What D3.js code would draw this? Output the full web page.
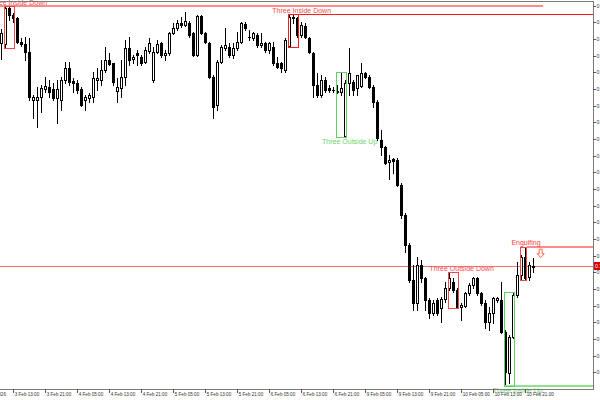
<!DOCTYPE html>
<html><head><meta charset="utf-8">
<script src="https://cdn.jsdelivr.net/npm/d3@7"></script>
<style>html,body{margin:0;padding:0;background:#fff;overflow:hidden}svg{display:block}</style>
</head><body><svg id="c" width="600" height="400"></svg>
<script>
// ---- DATA (hourly bars) ----
const open = [0.75438,0.75435,0.75543,0.75522,0.75513,0.75441,0.75435,0.75411,0.75267,0.75267,
0.75276,0.75300,0.75306,0.75300,0.75273,0.75267,0.75327,0.75363,0.75324,0.75318,
0.75300,0.75267,0.75273,0.75276,0.75327,0.75327,0.75357,0.75387,0.75378,0.75294,
0.75303,0.75336,0.75423,0.75390,0.75408,0.75396,0.75381,0.75414,0.75327,0.75411,
0.75438,0.75402,0.75408,0.75468,0.75483,0.75498,0.75492,0.75498,0.75468,0.75402,
0.75519,0.75468,0.75438,0.75336,0.75252,0.75381,0.75423,0.75426,0.75402,0.75423,
0.75441,0.75495,0.75456,0.75453,0.75462,0.75432,0.75438,0.75417,0.75426,0.75378,
0.75378,0.75357,0.75429,0.75516,0.75513,0.75462,0.75489,0.75453,0.75408,0.75312,
0.75282,0.75327,0.75303,0.75297,0.75294,0.75291,0.75159,0.75318,0.75321,0.75303,
0.75309,0.75348,0.75336,0.75306,0.75261,0.75147,0.75126,0.75081,0.75090,0.75087,
0.75012,0.74922,0.74832,0.74727,0.74658,0.74772,0.74733,0.74667,0.74628,0.74667,
0.74643,0.74670,0.74703,0.74721,0.74697,0.74646,0.74649,0.74688,0.74712,0.74733,
0.74688,0.74658,0.74601,0.74628,0.74667,0.74667,0.74571,0.74448,0.74556,0.74682,
0.74742,0.74796,0.74736,0.74766];
const high = [0.75480,0.75548,0.75549,0.75528,0.75516,0.75453,0.75456,0.75453,0.75282,0.75306,
0.75312,0.75336,0.75327,0.75318,0.75327,0.75336,0.75381,0.75381,0.75333,0.75327,
0.75306,0.75282,0.75288,0.75351,0.75363,0.75387,0.75426,0.75408,0.75378,0.75333,
0.75387,0.75447,0.75456,0.75402,0.75417,0.75402,0.75426,0.75453,0.75426,0.75447,
0.75441,0.75417,0.75471,0.75498,0.75507,0.75516,0.75531,0.75504,0.75471,0.75522,
0.75522,0.75471,0.75441,0.75342,0.75387,0.75432,0.75483,0.75438,0.75438,0.75471,
0.75501,0.75501,0.75477,0.75471,0.75468,0.75468,0.75441,0.75441,0.75441,0.75396,
0.75381,0.75453,0.75522,0.75524,0.75516,0.75501,0.75498,0.75456,0.75411,0.75348,
0.75342,0.75336,0.75312,0.75306,0.75312,0.75350,0.75327,0.75423,0.75327,0.75342,
0.75378,0.75351,0.75342,0.75312,0.75267,0.75177,0.75129,0.75102,0.75093,0.75093,
0.75018,0.74928,0.74838,0.74772,0.74796,0.74787,0.74736,0.74673,0.74667,0.74673,
0.74676,0.74721,0.74751,0.74733,0.74703,0.74658,0.74691,0.74718,0.74736,0.74736,
0.74691,0.74667,0.74646,0.74676,0.74676,0.74721,0.74577,0.74562,0.74691,0.74781,
0.74802,0.74827,0.74781,0.74793];
const low = [0.75390,0.75424,0.75507,0.75501,0.75438,0.75429,0.75387,0.75267,0.75213,0.75186,
0.75231,0.75291,0.75276,0.75267,0.75198,0.75237,0.75318,0.75312,0.75291,0.75288,
0.75249,0.75237,0.75261,0.75261,0.75297,0.75312,0.75351,0.75372,0.75312,0.75261,
0.75276,0.75312,0.75372,0.75378,0.75372,0.75372,0.75378,0.75408,0.75321,0.75408,
0.75396,0.75387,0.75402,0.75465,0.75477,0.75486,0.75489,0.75456,0.75399,0.75399,
0.75465,0.75438,0.75333,0.75213,0.75237,0.75378,0.75417,0.75396,0.75393,0.75417,
0.75438,0.75477,0.75447,0.75447,0.75426,0.75426,0.75411,0.75408,0.75372,0.75363,
0.75351,0.75351,0.75427,0.75498,0.75456,0.75456,0.75453,0.75408,0.75276,0.75276,
0.75276,0.75291,0.75291,0.75291,0.75288,0.75282,0.75156,0.75282,0.75282,0.75282,
0.75306,0.75333,0.75303,0.75246,0.75147,0.75102,0.75075,0.75030,0.75048,0.75009,
0.74913,0.74811,0.74721,0.74637,0.74637,0.74721,0.74637,0.74613,0.74622,0.74622,
0.74601,0.74661,0.74697,0.74691,0.74643,0.74607,0.74646,0.74682,0.74703,0.74682,
0.74652,0.74583,0.74577,0.74598,0.74661,0.74568,0.74409,0.74418,0.74553,0.74676,
0.74727,0.74727,0.74727,0.74751];
const close = [0.75468,0.75543,0.75522,0.75513,0.75441,0.75435,0.75411,0.75276,0.75276,0.75276,
0.75303,0.75309,0.75291,0.75273,0.75300,0.75327,0.75363,0.75321,0.75318,0.75297,
0.75252,0.75276,0.75282,0.75333,0.75333,0.75357,0.75387,0.75375,0.75321,0.75306,
0.75336,0.75423,0.75387,0.75396,0.75402,0.75378,0.75417,0.75438,0.75411,0.75435,
0.75402,0.75408,0.75468,0.75483,0.75498,0.75492,0.75504,0.75462,0.75402,0.75519,
0.75468,0.75441,0.75336,0.75246,0.75381,0.75426,0.75432,0.75402,0.75423,0.75441,
0.75498,0.75483,0.75455,0.75468,0.75432,0.75438,0.75417,0.75438,0.75378,0.75366,
0.75363,0.75447,0.75516,0.75513,0.75462,0.75492,0.75456,0.75411,0.75312,0.75282,
0.75327,0.75297,0.75297,0.75296,0.75292,0.75303,0.75318,0.75348,0.75297,0.75342,
0.75348,0.75336,0.75306,0.75261,0.75153,0.75126,0.75078,0.75087,0.75084,0.75012,
0.74922,0.74832,0.74727,0.74658,0.74772,0.74733,0.74667,0.74628,0.74658,0.74628,
0.74670,0.74703,0.74733,0.74697,0.74646,0.74652,0.74688,0.74712,0.74733,0.74688,
0.74658,0.74601,0.74628,0.74673,0.74673,0.74571,0.74451,0.74556,0.74682,0.74742,
0.74796,0.74733,0.74772,0.74769];

const timeTickBars = [-5,3,11,19,27,35,43,51,59,67,75,83,91,99,107,115,123,131];
const timeTickLabels = ["3 Feb 2026","3 Feb 13:00","3 Feb 21:00","4 Feb 05:00","4 Feb 13:00","4 Feb 21:00",
"5 Feb 05:00","5 Feb 13:00","5 Feb 21:00","6 Feb 05:00","6 Feb 13:00","6 Feb 21:00",
"9 Feb 05:00","9 Feb 13:00","9 Feb 21:00","10 Feb 05:00","10 Feb 13:00","10 Feb 21:00"];
const priceTicks = [0.7445,0.7450,0.7455,0.7460,0.7465,0.7470,0.7475,0.7480,0.7485,0.7490,0.7495,
0.7500,0.7505,0.7510,0.7515,0.7520,0.7525,0.7530,0.7535,0.7540,0.7545,0.7550,0.7555];
const priceTickLabels = priceTicks.map(v => v.toFixed(4));
const lastPrice = 0.74769;

const patternNames = ["Three Inside Down","Three Inside Down","Three Outside Up","Three Outside Down","Three Inside Up","Engulfing"];
const patternFirstBar = [1,72,84,112,126,130];
const patternLastBar = [3,74,86,114,128,131];
const patternBullish = [false,false,true,false,true,false];
const signalArrowBar = 134.75;

// ---- STYLE ----
const RED = "#ff1a1a", PINK = "#ff8c8c", GREEN = "#5fd35f", LGREEN = "#8fe38f";
const patternStyle = [
  {rect: "#f04848", text: "#ff4a4a", dx: 8, ext: {level: "top", from: "left", toBar: 135.3, color: PINK, w: 2}},
  {rect: RED, text: "#ff4a4a", dx: 8, ext: {level: "top", from: "rect", to: "edge", color: RED, w: 1}},
  {rect: GREEN, text: "#6ad86a", dx: 8, ext: null},
  {rect: "#f04848", text: "#ff4a4a", dx: 8, ext: null},
  {rect: GREEN, text: "#6ad86a", dx: 8, ext: {level: "bottom", from: "rect", to: "edge", color: LGREEN, w: 2}},
  {rect: "#f04848", text: "#ff3a3a", dx: 2.3, ext: {level: "top", from: "rectRight", to: "edge", color: PINK, w: 2}}
];

const plotRight = 593, plotTop = 1, plotBottom = 389;
const svg = d3.select("#c");
svg.append("rect").attr("width", 600).attr("height", 400).attr("fill", "#fff");

const x = d3.scaleLinear().domain([0, 1]).range([1.7, 5.7]);
const y = d3.scaleLinear().domain([0.744, 0.75567]).range([plotBottom, 0]);
const col = i => Math.floor(x(i));
const py = v => Math.round(y(v));

svg.append("defs").append("clipPath").attr("id", "plot")
  .append("rect").attr("x", 0).attr("y", plotTop).attr("width", plotRight).attr("height", plotBottom - plotTop);

const g = svg.append("g").attr("clip-path", "url(#plot)").attr("shape-rendering", "crispEdges");

// current price line
g.append("line").attr("x1", 0).attr("x2", plotRight)
  .attr("y1", py(lastPrice) + 0.5).attr("y2", py(lastPrice) + 0.5)
  .attr("stroke", "#f07070").attr("stroke-width", 1);

// candles
const bars = d3.range(open.length);
const cg = g.append("g");
cg.selectAll("rect.wick").data(bars).join("rect").attr("class", "wick")
  .attr("x", i => col(i)).attr("y", i => py(high[i]))
  .attr("width", 1).attr("height", i => py(low[i]) - py(high[i]) + 1)
  .attr("fill", "#000");
cg.selectAll("rect.body").data(bars).join("rect").attr("class", "body")
  .each(function(i) {
    const top = py(Math.max(open[i], close[i])), bot = py(Math.min(open[i], close[i]));
    const el = d3.select(this);
    if (close[i] > open[i] && bot - top >= 2) {
      el.attr("x", col(i) - 0.5).attr("y", top + 0.5).attr("width", 2).attr("height", bot - top)
        .attr("fill", "#fff").attr("stroke", "#000").attr("stroke-width", 1);
    } else {
      el.attr("x", col(i) - 1).attr("y", top).attr("width", 3).attr("height", Math.max(bot - top, 0) + 1)
        .attr("fill", "#000");
    }
  });

// patterns
const pg = g.append("g");
patternNames.forEach((name, p) => {
  const a = patternFirstBar[p], b = patternLastBar[p];
  const hi = d3.max(d3.range(a, b + 1), i => high[i]);
  const lo = d3.min(d3.range(a, b + 1), i => low[i]);
  const st = patternStyle[p];
  const x1 = Math.round(x(a) - 1.5) + 0.5, x2 = Math.round(x(b)) + 0.5;
  const y1 = py(hi) + 0.5, y2 = py(lo) + 0.5;
  if (st.ext) {
    const ly = st.ext.level === "top" ? y(hi) : y(lo);
    const lx1 = st.ext.from === "left" ? 0 : (st.ext.from === "rect" ? x1 : x2);
    const lx2 = st.ext.to === "edge" ? plotRight : x(st.ext.toBar);
    pg.append("line").attr("x1", lx1).attr("x2", lx2)
      .attr("y1", st.ext.w === 1 ? Math.round(ly) + 0.5 : Math.round(ly))
      .attr("y2", st.ext.w === 1 ? Math.round(ly) + 0.5 : Math.round(ly))
      .attr("stroke", st.ext.color).attr("stroke-width", st.ext.w);
  }
  pg.append("rect").attr("x", x1).attr("y", y1).attr("width", x2 - x1).attr("height", y2 - y1)
    .attr("fill", "none").attr("stroke", st.rect).attr("stroke-width", 1);
  const mid = (a + b) / 2;
  svg.append("text").attr("x", x(mid) + st.dx)
    .attr("y", patternBullish[p] ? y(lo) + 6.5 : y(hi) - 1.5)
    .attr("text-anchor", "middle").attr("font-family", "Liberation Sans, Arial, sans-serif")
    .attr("font-size", 7).attr("fill", st.text).text(name);
});

// signal arrow (hollow down arrow) after engulfing
{
  const cx = x(signalArrowBar), ty = y(high[patternLastBar[5]]) + 2.5;
  const pts = [[cx - 1.5, ty], [cx + 1.5, ty], [cx + 1.5, ty + 4.5], [cx + 3.5, ty + 4.5], [cx, ty + 8.5],
               [cx - 3.5, ty + 4.5], [cx - 1.5, ty + 4.5]];
  svg.append("path").attr("d", d3.line()(pts) + "Z")
    .attr("fill", "#fff").attr("stroke", "#ff6a40").attr("stroke-width", 1);
}

// frame
const fg = svg.append("g").attr("shape-rendering", "crispEdges");
fg.append("line").attr("x1", 0).attr("x2", plotRight + 0.5).attr("y1", plotTop + 0.5).attr("y2", plotTop + 0.5).attr("stroke", "#7a7a7a");
fg.append("line").attr("x1", plotRight + 0.5).attr("x2", plotRight + 0.5).attr("y1", plotTop).attr("y2", plotBottom + 1).attr("stroke", "#7a7a7a");
fg.append("line").attr("x1", 0).attr("x2", plotRight + 0.5).attr("y1", plotBottom + 0.5).attr("y2", plotBottom + 0.5).attr("stroke", "#7a7a7a");

// price axis (right)
const ag = svg.append("g");
priceTicks.forEach((v, k) => {
  const yy = py(v);
  ag.append("line").attr("x1", plotRight).attr("x2", plotRight + 3).attr("y1", yy + 0.5).attr("y2", yy + 0.5)
    .attr("stroke", "#555").attr("shape-rendering", "crispEdges");
  ag.append("text").attr("x", plotRight + 3.5).attr("y", yy + 2)
    .attr("font-family", "Liberation Sans, Arial, sans-serif").attr("font-size", 5.2).attr("fill", "#333")
    .text(priceTickLabels[k]);
});
// last price label
ag.append("rect").attr("x", plotRight + 1).attr("y", py(lastPrice) - 4).attr("width", 10).attr("height", 8)
  .attr("fill", "#d40000");
ag.append("text").attr("x", plotRight + 2).attr("y", py(lastPrice) + 2)
  .attr("font-family", "Liberation Sans, Arial, sans-serif").attr("font-size", 5.2).attr("fill", "#fff")
  .text(lastPrice.toFixed(5));

// time axis (bottom)
timeTickBars.forEach((bIdx, k) => {
  const xx = Math.round(x(bIdx)) - 0.5;
  ag.append("line").attr("x1", xx).attr("x2", xx).attr("y1", plotBottom).attr("y2", plotBottom + 4)
    .attr("stroke", "#555").attr("shape-rendering", "crispEdges");
  ag.append("text").attr("x", xx + 1.2).attr("y", plotBottom + 7)
    .attr("font-family", "Liberation Sans, Arial, sans-serif").attr("font-size", 4.6).attr("fill", "#333")
    .text(timeTickLabels[k]);
});
</script>
</body></html>
